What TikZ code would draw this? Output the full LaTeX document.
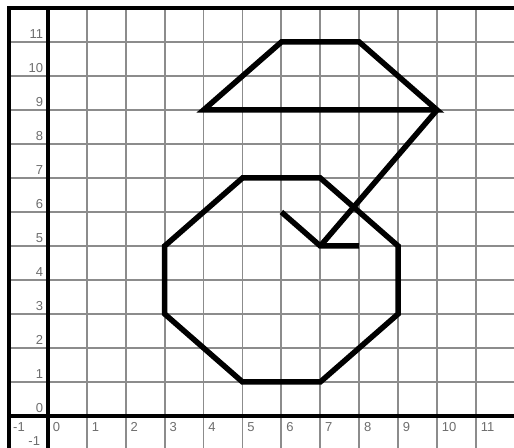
\documentclass[tikz,border=0pt]{standalone}
\usepackage{fontspec}
\setmainfont{Liberation Sans}
\definecolor{gridgray}{HTML}{8C8C8C}
\definecolor{labelgray}{HTML}{6E6E6E}
\begin{document}
\begin{tikzpicture}[x=38.9pt,y=34pt,
  gridline/.style={draw=gridgray,line width=1.8pt},
  axisline/.style={draw=black,line width=4.2pt},
  figline/.style={draw=black,line width=5.5pt},
  lbl/.style={text=labelgray,inner sep=0pt,font=\fontsize{13}{15}\selectfont}]
\useasboundingbox (-1.234,-0.941) rectangle (11.98,12.235);
\fill[white] (-1.234,-0.941) rectangle (11.98,12.235);
% grid
\foreach \i in {0,...,11} \draw[gridline] (\i,-1.2) -- (\i,12);
\foreach \j in {-1,...,11} \draw[gridline] (-1,\j) -- (12.2,\j);
% border and axes
\draw[axisline] (-1,-1.2) -- (-1,12) -- (12.2,12);
\draw[axisline] (0,-1.2) -- (0,12);
\draw[axisline] (-1,0) -- (12.2,0);
% labels
\foreach \j in {0,...,11} \node[lbl,anchor=base east] (ly\j) at (-0.12,\j+0.1) {\j};
\node[lbl,anchor=base east] (lym1) at (-0.2,-0.87) {-1};
\foreach \i in {0,...,11} \node[lbl,anchor=base west] (lx\i) at (\i+0.12,-0.47) {\i};
\node[lbl,anchor=base west] (lxm1) at (-0.9,-0.47) {-1};
% shapes
\coordinate (a1) at (4,9);
\coordinate (a2) at (10,9);
\coordinate (a3) at (8,11);
\coordinate (a4) at (6,11);
\coordinate (b1) at (7,5);
\coordinate (b2) at (6,6);
\coordinate (b3) at (8,5);
\coordinate (o1) at (5,7);
\coordinate (o2) at (7,7);
\coordinate (o3) at (9,5);
\coordinate (o4) at (9,3);
\coordinate (o5) at (7,1);
\coordinate (o6) at (5,1);
\coordinate (o7) at (3,3);
\coordinate (o8) at (3,5);
\draw[figline] (a1) -- (a2) -- (a3) -- (a4) -- cycle;
\draw[figline] (a2) -- (b1);
\draw[figline] (b2) -- (b1) -- (b3);
\draw[figline] (o1) -- (o2) -- (o3) -- (o4) -- (o5) -- (o6) -- (o7) -- (o8) -- cycle;
\end{tikzpicture}
\end{document}
